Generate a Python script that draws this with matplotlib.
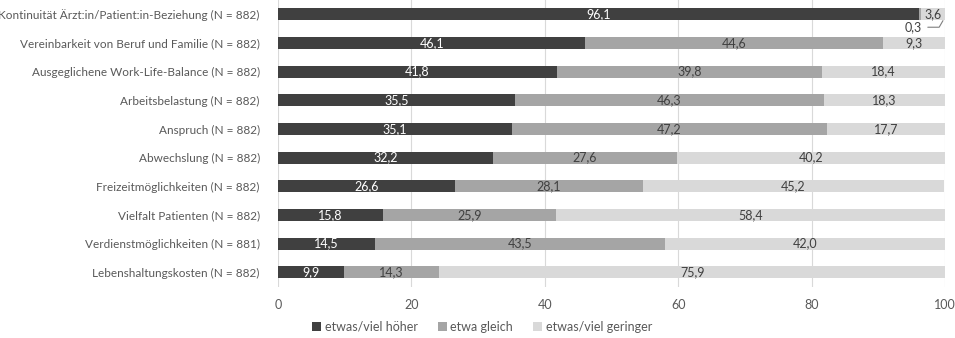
import matplotlib
matplotlib.use("Agg")
import matplotlib.pyplot as plt
import numpy as np

plt.rcParams['font.family'] = ['Lato', 'DejaVu Sans']

categories = [
    "Kontinuität Ärzt:in/Patient:in-Beziehung (N = 882)",
    "Vereinbarkeit von Beruf und Familie (N = 882)",
    "Ausgeglichene Work-Life-Balance (N = 882)",
    "Arbeitsbelastung (N = 882)",
    "Anspruch (N = 882)",
    "Abwechslung (N = 882)",
    "Freizeitmöglichkeiten (N = 882)",
    "Vielfalt Patienten (N = 882)",
    "Verdienstmöglichkeiten (N = 881)",
    "Lebenshaltungskosten (N = 882)",
]
hoeher = [96.1, 46.1, 41.8, 35.5, 35.1, 32.2, 26.6, 15.8, 14.5, 9.9]
gleich = [0.3, 44.6, 39.8, 46.3, 47.2, 27.6, 28.1, 25.9, 43.5, 14.3]
geringer = [3.6, 9.3, 18.4, 18.3, 17.7, 40.2, 45.2, 58.4, 42.0, 75.9]
series_names = ["etwas/viel höher", "etwa gleich", "etwas/viel geringer"]
colors = ["#404040", "#a5a5a5", "#d9d9d9"]
text_colors = ["white", "#404040", "#404040"]
xticks = [0, 20, 40, 60, 80, 100]

fig = plt.figure(figsize=(9.55, 3.38), dpi=100)
ax = fig.add_axes([0.291, 0.152, 0.6985, 0.848])

y = np.arange(len(categories))
left = np.zeros(len(categories))
for vals, name, col, tcol in zip([hoeher, gleich, geringer], series_names, colors, text_colors):
    vals = np.array(vals)
    ax.barh(y, vals, left=left, height=0.42, color=col, label=name, zorder=3)
    for i, (v, l) in enumerate(zip(vals, left)):
        lab = f"{v:.1f}".replace(".", ",")
        if v < 1:
            # small value placed below the bar with a leader line
            ax.annotate(lab, xy=(99.7, y[i] + 0.22), xytext=(95.3, y[i] + 0.45),
                        ha="center", va="center", fontsize=9, color="#404040",
                        arrowprops=dict(arrowstyle="-", color="#7f7f7f", lw=0.8,
                                        connectionstyle="angle,angleA=0,angleB=60,rad=0",
                                        shrinkA=2, shrinkB=0), zorder=5)
        else:
            ax.text(l + v / 2, y[i], lab, ha="center", va="center", fontsize=9,
                    color=tcol, zorder=4)
    left = left + vals

ax.set_xlim(0, 100)
ax.set_ylim(len(categories) - 0.5, -0.5)
ax.set_yticks(y)
ax.set_yticklabels(categories, fontsize=8.5, color="#595959")
ax.set_xticks(xticks)
ax.set_xticklabels([str(t) for t in xticks], fontsize=9, color="#595959")
ax.tick_params(axis="x", length=0, pad=9)
ax.tick_params(axis="y", length=0, pad=13)
ax.grid(axis="x", color="#d9d9d9", lw=0.8, zorder=0)
for s in ax.spines.values():
    s.set_visible(False)

handles, labels = ax.get_legend_handles_labels()
fig.legend(handles, labels, loc="center", bbox_to_anchor=(0.505, 0.033), ncol=3,
           frameon=False, fontsize=9, handlelength=0.7, handleheight=0.7,
           columnspacing=1.6, handletextpad=0.3, labelcolor="#595959",
           borderpad=0, borderaxespad=0)

fig.savefig("out.png", dpi=100)
